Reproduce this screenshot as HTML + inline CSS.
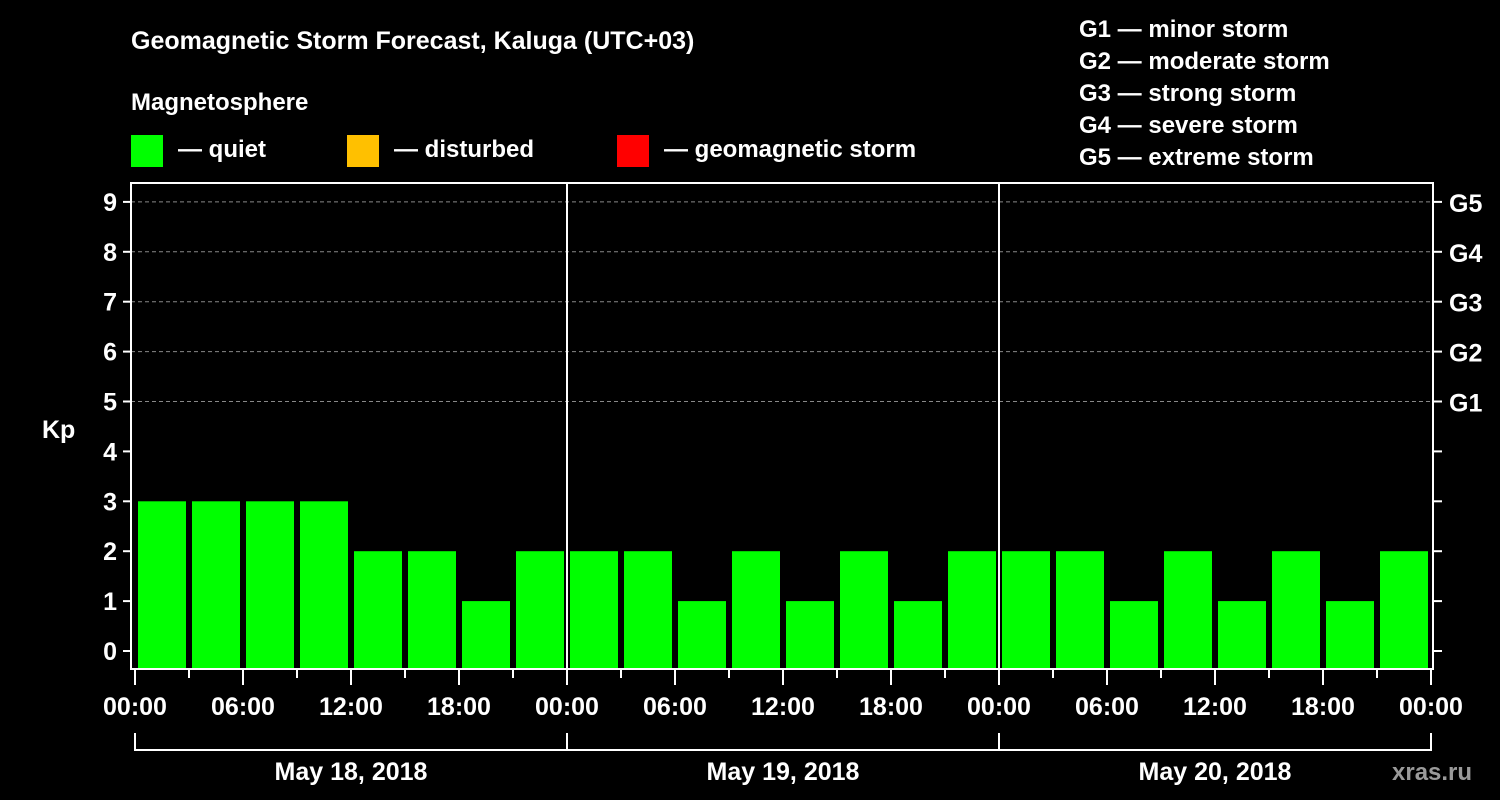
<!DOCTYPE html>
<html><head><meta charset="utf-8"><style>
html,body{margin:0;padding:0;background:#000;width:1500px;height:800px;overflow:hidden}
svg text{font-family:"Liberation Sans",Arial,sans-serif;font-weight:bold;fill:#fff}
</style></head><body>
<svg id="chart" width="1500" height="800" xmlns="http://www.w3.org/2000/svg">
<rect width="1500" height="800" fill="#000"/>
<text x="131" y="49" font-size="25">Geomagnetic Storm Forecast, Kaluga (UTC+03)</text>
<text x="131" y="110" font-size="24">Magnetosphere</text>
<g><rect x="131" y="135" width="32" height="32" fill="#00ff00"/><text x="178" y="157" font-size="24">— quiet</text></g>
<g><rect x="347" y="135" width="32" height="32" fill="#ffc000"/><text x="394" y="157" font-size="24">— disturbed</text></g>
<g><rect x="617" y="135" width="32" height="32" fill="#ff0000"/><text x="664" y="157" font-size="24">— geomagnetic storm</text></g>
<g font-size="24">
<text x="1079" y="37" font-size="24">G1 — minor storm</text>
<text x="1079" y="69" font-size="24">G2 — moderate storm</text>
<text x="1079" y="101" font-size="24">G3 — strong storm</text>
<text x="1079" y="133" font-size="24">G4 — severe storm</text>
<text x="1079" y="165" font-size="24">G5 — extreme storm</text>
</g>
<g id="grid"></g><g id="bars"></g><g id="axes"></g>
<text x="42" y="438" font-size="25">Kp</text>
<text x="1392" y="780" font-size="24" fill="#aaa" style="fill:#9a9a9a">xras.ru</text>
</svg>
<script>
const kpValues=[3,3,3,3,2,2,1,2, 2,2,1,2,1,2,1,2, 2,2,1,2,1,2,1,2];
const yTicks=[0,1,2,3,4,5,6,7,8,9];
const gLabels=["G1","G2","G3","G4","G5"];
const gLevels=[5,6,7,8,9];
const dayLabels=["May 18, 2018","May 19, 2018","May 20, 2018"];
const hourLabels=["00:00","06:00","12:00","18:00"];
const NS="http://www.w3.org/2000/svg";
const X0=135,DAYW=432,L=131,R=1433,T=183,B=669;
const x=h=>X0+h*DAYW/24;
const y=v=>651-v*49.9;
function mk(tag,attrs,parent,txt){const e=document.createElementNS(NS,tag);for(const k in attrs)e.setAttribute(k,attrs[k]);if(txt!==undefined)e.textContent=txt;document.getElementById(parent).appendChild(e);return e;}
const colorFor=v=>v>=5?"#ff0000":v>=4?"#ffc000":"#00ff00";
gLevels.forEach(v=>{const e=mk("line",{x1:L,x2:R,y1:y(v),y2:y(v),stroke:"#888","stroke-dasharray":"4,3","stroke-width":1},"grid");

});
kpValues.forEach((v,i)=>{const x1=x(i*3)+3,x2=x(i*3+3)-3;const r=mk("rect",{x:x1,y:y(v),width:x2-x1,height:B-y(v),fill:colorFor(v)},"bars");

});
mk("rect",{x:L,y:T,width:R-L,height:B-T,fill:"none",stroke:"#fff","stroke-width":2},"axes");
for(let d=1;d<dayLabels.length;d++){const e=mk("line",{x1:x(24*d),x2:x(24*d),y1:T,y2:B,stroke:"#fff","stroke-width":2},"axes");

}
yTicks.forEach(v=>{mk("line",{x1:L-8,x2:L,y1:y(v),y2:y(v),stroke:"#fff","stroke-width":2},"axes");
mk("line",{x1:R,x2:R+9,y1:y(v),y2:y(v),stroke:"#fff","stroke-width":2},"axes");
const t=mk("text",{x:L-14,y:y(v)+9,"font-size":25,"text-anchor":"end"},"axes",String(v));

});
gLevels.forEach((v,i)=>{const t=mk("text",{x:1449,y:y(v)+10,"font-size":25},"axes",gLabels[i]);

});
for(let h=0;h<=72;h+=3){const major=h%6===0;mk("line",{x1:x(h),x2:x(h),y1:B,y2:major?685:678,stroke:"#fff","stroke-width":2},"axes");
if(major&&(h%24===0||true)){const lbl=hourLabels[(h%24)/6];const t=mk("text",{x:x(h),y:715,"font-size":25,"text-anchor":"middle"},"axes",lbl);

}}
dayLabels.forEach((d,i)=>{mk("path",{d:`M${x(24*i)} 733V750H${x(24*i+24)}V733`,fill:"none",stroke:"#fff","stroke-width":2},"axes");
const t=mk("text",{x:x(24*i+12),y:780,"font-size":25,"text-anchor":"middle"},"axes",d);

});
</script>
</body></html>
